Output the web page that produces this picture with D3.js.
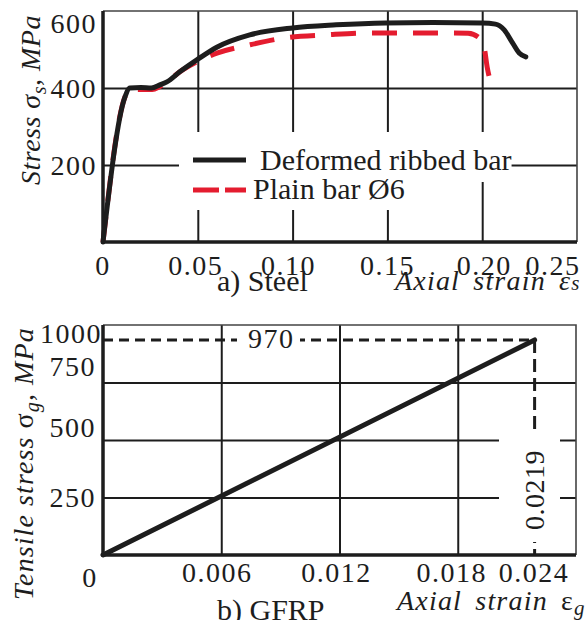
<!DOCTYPE html>
<html>
<head>
<meta charset="utf-8">
<script src="https://cdn.jsdelivr.net/npm/d3@7"></script>
<style>
  body { margin: 0; background: #fff; }
</style>
</head>
<body>
<div id="chart"></div>
<script>
// a) steel
var steelTicksX = [0, 0.05, 0.10, 0.15, 0.20, 0.25];
var steelTickLabelsX = ["0", "0.05", "0.10", "0.15", "0.20", "0.25"];
var steelTicksY = [200, 400, 600];

var ribbedStrain = [0, 0.0116, 0.0142, 0.0200, 0.0255, 0.0300, 0.0337, 0.0405, 0.0495, 0.060, 0.0774, 0.100, 0.123, 0.149, 0.174, 0.200, 0.207, 0.2116, 0.216, 0.2195, 0.223];
var ribbedStress = [0, 377, 400, 401, 400, 408, 416, 442, 473, 506, 538, 556, 564, 569, 570, 569, 566, 551, 517, 491, 481];

var plainStrain = [0, 0.0116, 0.0142, 0.0200, 0.0260, 0.0300, 0.042, 0.0605, 0.0774, 0.0958, 0.118, 0.1397, 0.1616, 0.184, 0.1926, 0.198, 0.201, 0.2026, 0.2053];
var plainStress = [0, 377, 396, 396, 396, 404, 447, 491, 512, 530, 538, 543, 543, 543, 542, 532, 506, 455, 400];

var seriesNames = ["Deformed ribbed bar", "Plain bar Ø6"];

// b) GFRP
var gfrpTicksX = [0.006, 0.012, 0.018, 0.024];
var gfrpTickLabelsX = ["0.006", "0.012", "0.018", "0.024"];
var gfrpTicksY = [250, 500, 750, 1000];

var gfrpStrain = [0, 0.0219];
var gfrpStress = [0, 935];
var peakStrainLabel = "0.0219";
var peakStressLabel = "970";

var W = 586, H = 620;
var ink = "#1d1d1d";
var red = "#e41c2f";
var serif = "'Liberation Serif', 'DejaVu Serif', serif";

var svg = d3.select("#chart").append("svg")
	.attr("width", W)
	.attr("height", H)
	.attr("font-family", serif)
	.style("display", "block");

var zip = function (xs, ys) {
	return xs.map(function (v, i) { return [v, ys[i]]; });
};

var tickText = function (g, x, y, txt, anchor) {
	return g.append("text")
		.attr("x", x).attr("y", y)
		.attr("text-anchor", anchor || "middle")
		.attr("font-family", serif)
		.attr("font-size", 28)
		.attr("letter-spacing", 1.5)
		.attr("fill", ink)
		.text(txt);
};

/////////////////////////////////////////////////////////////////////////////////////////////////
// panel a

var xs = d3.scaleLinear().domain([0, 0.25]).range([103, 577]);
var ys = d3.scaleLinear().domain([0, 600]).range([242, 11]);
var ga = svg.append("g");

// grid
ga.append("g")
	.attr("transform", "translate(0," + ys(0) + ")")
	.call(d3.axisBottom(xs).tickValues(steelTicksX.slice(1, -1)).tickSize(-(ys(0) - ys(600))).tickFormat(""))
	.call(function (g) {
		g.select(".domain").remove();
		g.selectAll("line").attr("stroke", ink).attr("stroke-width", 2);
	});
ga.append("g")
	.attr("transform", "translate(" + xs(0) + ",0)")
	.call(d3.axisLeft(ys).tickValues(steelTicksY.slice(0, -1)).tickSize(-(xs(0.25) - xs(0))).tickFormat(""))
	.call(function (g) {
		g.select(".domain").remove();
		g.selectAll("line").attr("stroke", ink).attr("stroke-width", 2);
	});

// frame
ga.append("path")
	.attr("d", "M" + xs(0) + "," + ys(600) + "H" + xs(0.25) + "V" + ys(0))
	.attr("fill", "none").attr("stroke", "#444").attr("stroke-width", 1.6);

// legend (white backing breaks the grid)
var leg = ga.append("g");
var legRows = [{y: 170, top: 132, bot: 182, x0: 179, tx: 260}, {y: 199, top: 182, bot: 210, x0: 179, tx: 253}];
seriesNames.forEach(function (name, i) {
	var r = legRows[i];
	var t = leg.append("text")
		.attr("x", r.tx).attr("y", r.y)
		.attr("font-family", serif)
		.attr("font-size", 30)
		.attr("fill", ink)
		.text(name);
	var bb = t.node().getBBox();
	leg.insert("rect", "text")
		.attr("x", r.x0).attr("y", r.top)
		.attr("width", bb.x + bb.width - r.x0 + (i === 0 ? 0 : 12))
		.attr("height", r.bot - r.top)
		.attr("fill", "#fff");
});
leg.append("line")
	.attr("x1", 193).attr("x2", 246).attr("y1", 160).attr("y2", 160)
	.attr("stroke", ink).attr("stroke-width", 5);
leg.append("line")
	.attr("x1", 193).attr("x2", 246).attr("y1", 190).attr("y2", 190)
	.attr("stroke", red).attr("stroke-width", 5).attr("stroke-dasharray", "26,6");

// curves
var lineA = d3.line()
	.x(function (d) { return xs(d[0]); })
	.y(function (d) { return ys(d[1]); })
	.curve(d3.curveMonotoneX);

ga.append("path")
	.datum(zip(plainStrain, plainStress))
	.attr("d", lineA)
	.attr("fill", "none").attr("stroke", red).attr("stroke-width", 5)
	.attr("stroke-dasharray", "25,16");
ga.append("path")
	.datum(zip(ribbedStrain, ribbedStress))
	.attr("d", lineA)
	.attr("fill", "none").attr("stroke", ink).attr("stroke-width", 5)
	.attr("stroke-linejoin", "round").attr("stroke-linecap", "round");

// axes
ga.append("path")
	.attr("d", "M" + xs(0) + "," + ys(600) + "V" + ys(0) + "H" + xs(0.25))
	.attr("fill", "none").attr("stroke", ink).attr("stroke-width", 3.5);

// tick labels
var steelXShift = {0: 0, 0.05: -2, 0.1: -4, 0.15: 0, 0.2: 2, 0.25: -24};
steelTicksX.forEach(function (v, i) {
	tickText(ga, xs(v) + steelXShift[v], 275, steelTickLabelsX[i]);
});
var steelYShift = {200: 10, 400: 10, 600: 22};
steelTicksY.forEach(function (v) {
	tickText(ga, 97, ys(v) + steelYShift[v], String(v), "end");
});

ga.append("text")
	.attr("x", 217).attr("y", 291)
	.attr("font-family", serif)
	.attr("font-size", 30).attr("fill", ink)
	.text("a) Steel");

var axa = ga.append("text")
	.attr("x", 395).attr("y", 290)
	.attr("font-family", serif)
	.attr("font-size", 28).attr("font-style", "italic")
	.attr("letter-spacing", 1.2).attr("word-spacing", 5)
	.attr("fill", ink);
axa.append("tspan").text("Axial strain ε");
axa.append("tspan").attr("font-size", 21).text("s");

var yta = ga.append("text")
	.attr("transform", "translate(40,185) rotate(-90)")
	.attr("font-family", serif)
	.attr("font-size", 28).attr("font-style", "italic")
	.attr("letter-spacing", 0.5)
	.attr("fill", ink);
yta.append("tspan").text("Stress σ");
yta.append("tspan").attr("font-size", 20).attr("dy", 6).text("s");
yta.append("tspan").attr("dy", -6).text(", MPa");

/////////////////////////////////////////////////////////////////////////////////////////////////
// panel b

var xg = d3.scaleLinear().domain([0, 0.024]).range([103, 576]);
var yg = d3.scaleLinear().domain([0, 1000]).range([555, 325]);
var gb = svg.append("g");

gb.append("g")
	.attr("transform", "translate(0," + yg(0) + ")")
	.call(d3.axisBottom(xg).tickValues(gfrpTicksX.slice(0, -1)).tickSize(-(yg(0) - yg(1000))).tickFormat(""))
	.call(function (g) {
		g.select(".domain").remove();
		g.selectAll("line").attr("stroke", ink).attr("stroke-width", 2);
	});
gb.append("g")
	.attr("transform", "translate(" + xg(0) + ",0)")
	.call(d3.axisLeft(yg).tickValues(gfrpTicksY.slice(0, -1)).tickSize(-(xg(0.024) - xg(0))).tickFormat(""))
	.call(function (g) {
		g.select(".domain").remove();
		g.selectAll("line").attr("stroke", ink).attr("stroke-width", 2);
	});

gb.append("path")
	.attr("d", "M" + xg(0) + "," + yg(1000) + "H" + xg(0.024) + "V" + yg(0))
	.attr("fill", "none").attr("stroke", "#444").attr("stroke-width", 1.6);

// peak guides
var px = xg(gfrpStrain[1]), py = yg(gfrpStress[1]);
gb.append("line")
	.attr("x1", xg(0)).attr("x2", px).attr("y1", py).attr("y2", py)
	.attr("stroke", ink).attr("stroke-width", 3).attr("stroke-dasharray", "10,6");
gb.append("line")
	.attr("x1", px).attr("x2", px).attr("y1", py).attr("y2", yg(0))
	.attr("stroke", ink).attr("stroke-width", 3).attr("stroke-dasharray", "13,6");

// white patches behind annotations
gb.append("rect").attr("x", 237).attr("y", py - 12).attr("width", 63).attr("height", 24).attr("fill", "#fff");
gb.append("rect").attr("x", 499).attr("y", 433).attr("width", 61).attr("height", 109).attr("fill", "#fff");

tickText(gb, 248, py + 8, peakStressLabel, "start");
gb.append("text")
	.attr("transform", "translate(" + (px + 9) + ",490) rotate(-90)")
	.attr("text-anchor", "middle")
	.attr("font-family", serif)
	.attr("font-size", 28).attr("letter-spacing", 0.5)
	.attr("fill", ink)
	.text(peakStrainLabel);

var lineB = d3.line()
	.x(function (d) { return xg(d[0]); })
	.y(function (d) { return yg(d[1]); });
gb.append("path")
	.datum(zip(gfrpStrain, gfrpStress))
	.attr("d", lineB)
	.attr("fill", "none").attr("stroke", ink).attr("stroke-width", 5)
	.attr("stroke-linecap", "round");

gb.append("path")
	.attr("d", "M" + xg(0) + "," + yg(1000) + "V" + yg(0) + "H" + xg(0.024))
	.attr("fill", "none").attr("stroke", ink).attr("stroke-width", 3.5);

var gfrpXShift = {0.006: -4, 0.012: -3, 0.018: -6, 0.024: -42};
gfrpTicksX.forEach(function (v, i) {
	tickText(gb, xg(v) + gfrpXShift[v], 582, gfrpTickLabelsX[i]);
});
tickText(gb, 90, 587, "0");
var gfrpYShift = {250: 9, 500: -3, 750: -7, 1000: 18};
gfrpTicksY.forEach(function (v) {
	tickText(gb, v === 1000 ? 102 : 96, yg(v) + gfrpYShift[v], String(v), "end");
});

gb.append("text")
	.attr("x", 217).attr("y", 620)
	.attr("font-family", serif)
	.attr("font-size", 30).attr("fill", ink)
	.text("b) GFRP");

var axb = gb.append("text")
	.attr("x", 397).attr("y", 610)
	.attr("font-family", serif)
	.attr("font-size", 28).attr("font-style", "italic")
	.attr("letter-spacing", 1.2).attr("word-spacing", 5)
	.attr("fill", ink);
axb.append("tspan").text("Axial strain ");
axb.append("tspan").attr("font-style", "normal").text("ε");
axb.append("tspan").attr("font-size", 21).attr("dy", 5).text("g");

var ytb = gb.append("text")
	.attr("transform", "translate(33,600) rotate(-90)")
	.attr("font-family", serif)
	.attr("font-size", 28).attr("font-style", "italic")
	.attr("letter-spacing", 1.1)
	.attr("fill", ink);
ytb.append("tspan").text("Tensile stress ");
ytb.append("tspan").attr("font-style", "normal").text("σ");
ytb.append("tspan").attr("font-size", 20).attr("dy", 6).text("g");
ytb.append("tspan").attr("dy", -6).text(", MPa");
</script>
</body>
</html>
